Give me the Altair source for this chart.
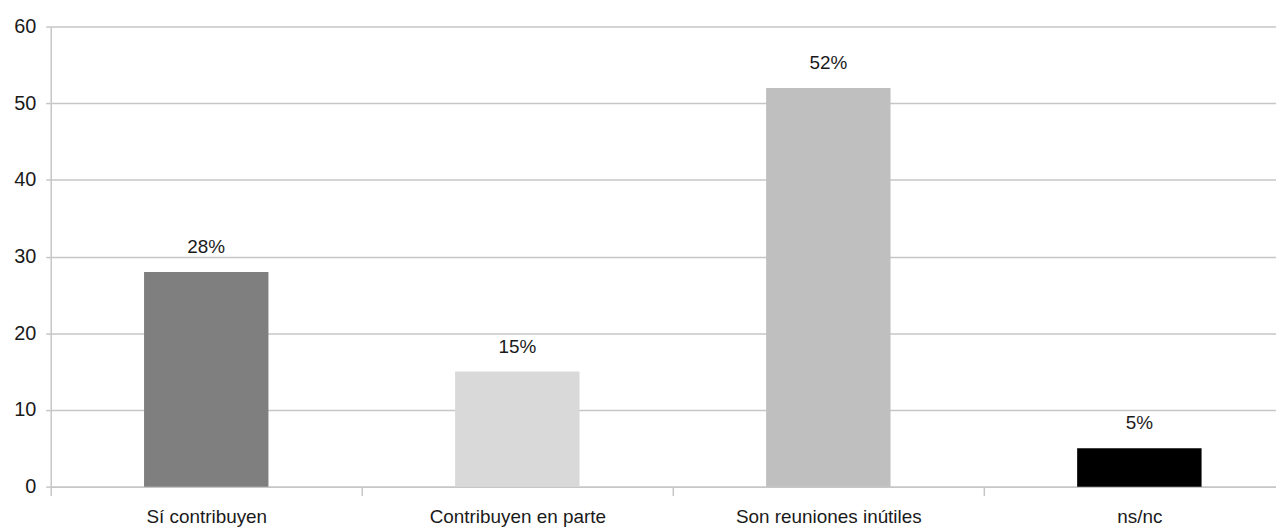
import altair as alt
import pandas as pd

categories = ["Sí contribuyen", "Contribuyen en parte", "Son reuniones inútiles", "ns/nc"]
values = [28, 15, 52, 5]
labels = ["28%", "15%", "52%", "5%"]
colors = ["#7f7f7f", "#d9d9d9", "#bfbfbf", "#000000"]

df = pd.DataFrame({"cat": categories, "val": values, "lab": labels})

FONT = "Liberation Sans"

x = alt.X("cat:N", sort=categories, title=None,
          scale=alt.Scale(range=[0, 1252], paddingInner=0, paddingOuter=0),
          axis=alt.Axis(labelAngle=0, labelFontSize=19, labelFont=FONT, labelColor="#1a1a1a",
                        labelLimit=0, tickBand="extent", tickSize=9, tickColor="#c6c6c6", tickWidth=1.5,
                        domainColor="#c6c6c6", domainWidth=1.5, labelPadding=12, grid=False))

y = alt.Y("val:Q", title=None,
          scale=alt.Scale(domain=[0, 60], nice=False),
          axis=alt.Axis(values=[0, 10, 20, 30, 40, 50, 60], labelFontSize=20, labelFont=FONT,
                        labelColor="#1a1a1a", tickSize=5, tickColor="#c6c6c6", tickWidth=1.5,
                        domainColor="#c6c6c6", domainWidth=1.5, labelPadding=10,
                        gridColor="#c6c6c6", gridWidth=1.5))

bars = alt.Chart(df).mark_bar(width=alt.RelativeBandSize(0.4)).encode(
    x=x, y=y,
    color=alt.Color("cat:N", sort=categories, scale=alt.Scale(domain=categories, range=colors), legend=None),
)

text = alt.Chart(df).mark_text(baseline="middle", dy=-25, fontSize=19, font=FONT, color="#1a1a1a").encode(
    x=alt.X("cat:N", sort=categories), y="val:Q", text="lab:N"
)

chart = alt.layer(bars, text).properties(
    width=1233, height=463,
    autosize=alt.AutoSizeParams(type="none"),
    padding={"left": 43, "top": 17, "right": 0, "bottom": 44},
).configure_view(stroke=None)

chart.save("out.html", embed_options={"renderer": "svg", "actions": False})
